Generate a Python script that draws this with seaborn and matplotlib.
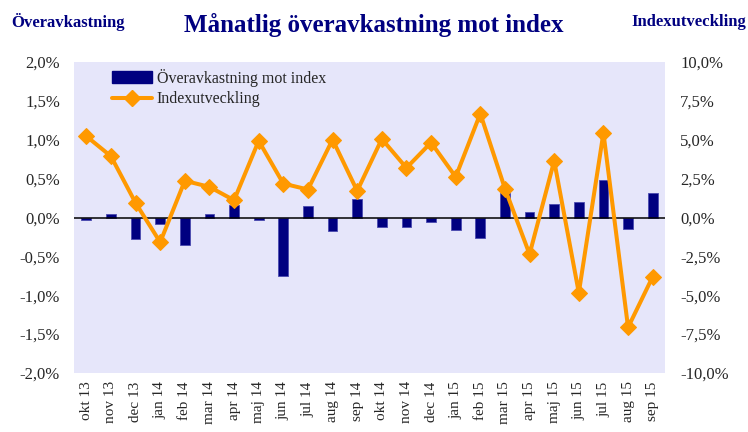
import numpy as np
import pandas as pd
import seaborn as sns
import matplotlib.pyplot as plt
from matplotlib.ticker import FuncFormatter, MultipleLocator
from matplotlib.patches import Patch
from matplotlib.lines import Line2D

months = ["okt 13", "nov 13", "dec 13", "jan 14", "feb 14", "mar 14", "apr 14", "maj 14",
          "jun 14", "jul 14", "aug 14", "sep 14", "okt 14", "nov 14", "dec 14", "jan 15",
          "feb 15", "mar 15", "apr 15", "maj 15", "jun 15", "jul 15", "aug 15", "sep 15"]
# monthly excess return vs index (%)
excess = [-0.03, 0.05, -0.28, -0.09, -0.35, 0.05, 0.16, -0.03,
          -0.75, 0.15, -0.17, 0.24, -0.12, -0.12, -0.06, -0.16,
          -0.27, 0.32, 0.07, 0.18, 0.20, 0.48, -0.15, 0.32]
# monthly index development (%)
index_dev = [5.23, 3.94, 0.94, -1.59, 2.36, 1.97, 1.11, 4.93,
             2.18, 1.80, 5.01, 1.71, 5.05, 3.19, 4.82, 2.61,
             6.68, 1.86, -2.36, 3.64, -4.84, 5.44, -7.07, -3.81]

navy = "#000080"
orange = "#FF9900"

sns.set_style("white")
plt.rcParams["font.family"] = ["Liberation Serif", "DejaVu Serif"]

df = pd.DataFrame({"month": months, "excess": excess, "index": index_dev,
                   "pos": np.arange(len(months))})

fig = plt.figure(figsize=(7.48, 4.32), dpi=100)
ax = fig.add_axes([74 / 748, 1 - 373 / 432, 591 / 748, 311 / 432])
ax.set_facecolor("#E6E6FA")

sns.barplot(data=df, x="month", y="excess", color=navy, width=0.4,
            edgecolor="#4a4ab0", linewidth=0.6, saturation=1, ax=ax)
ax.axhline(0, color="black", lw=1.1, zorder=3)

ax.set_xlim(-0.5, len(months) - 0.5)
ax.set_ylim(-2.0, 2.0)
ax.yaxis.set_major_locator(MultipleLocator(0.5))
pct = FuncFormatter(lambda v, p: f"{v:.1f}%".replace(".", ","))
ax.yaxis.set_major_formatter(pct)
ax.set_xlabel("")
ax.set_ylabel("")
ax.tick_params(axis="x", rotation=90, labelsize=11, length=0, pad=6)
ax.tick_params(axis="y", labelsize=12, length=0, pad=10)
for s in ax.spines.values():
    s.set_visible(False)

ax2 = ax.twinx()
sns.lineplot(data=df, x="pos", y="index", color=orange, lw=2.9, marker="D",
             markersize=8, markeredgecolor=orange, ax=ax2)
ax2.set_ylim(-10, 10)
ax2.yaxis.set_major_locator(MultipleLocator(2.5))
ax2.yaxis.set_major_formatter(pct)
ax2.set_ylabel("")
ax2.set_xlabel("")
ax2.tick_params(axis="y", labelsize=12, length=0, pad=11)
for s in ax2.spines.values():
    s.set_visible(False)
ax2.set_xlim(-0.5, len(months) - 0.5)

handles = [Patch(facecolor=navy, edgecolor=navy),
           Line2D([0], [0], color=orange, lw=2.9, marker="D", markersize=8)]
ax2.legend(handles, ["Överavkastning mot index", "Indexutveckling"],
           loc="upper left", bbox_to_anchor=(0.04, 1.025), frameon=False,
           fontsize=11.5, handlelength=2.5, handletextpad=0.3, labelspacing=0.3)

fig.text(0.5, 0.942, "Månatlig överavkastning mot index", ha="center", va="center",
         fontsize=18, color=navy, fontweight="bold")
fig.text(0.015, 0.95, "Överavkastning", ha="left", va="center",
         fontsize=12, color=navy, fontweight="bold")
fig.text(0.997, 0.95, "Indexutveckling", ha="right", va="center",
         fontsize=12, color=navy, fontweight="bold")

fig.savefig("out.png", dpi=100)
